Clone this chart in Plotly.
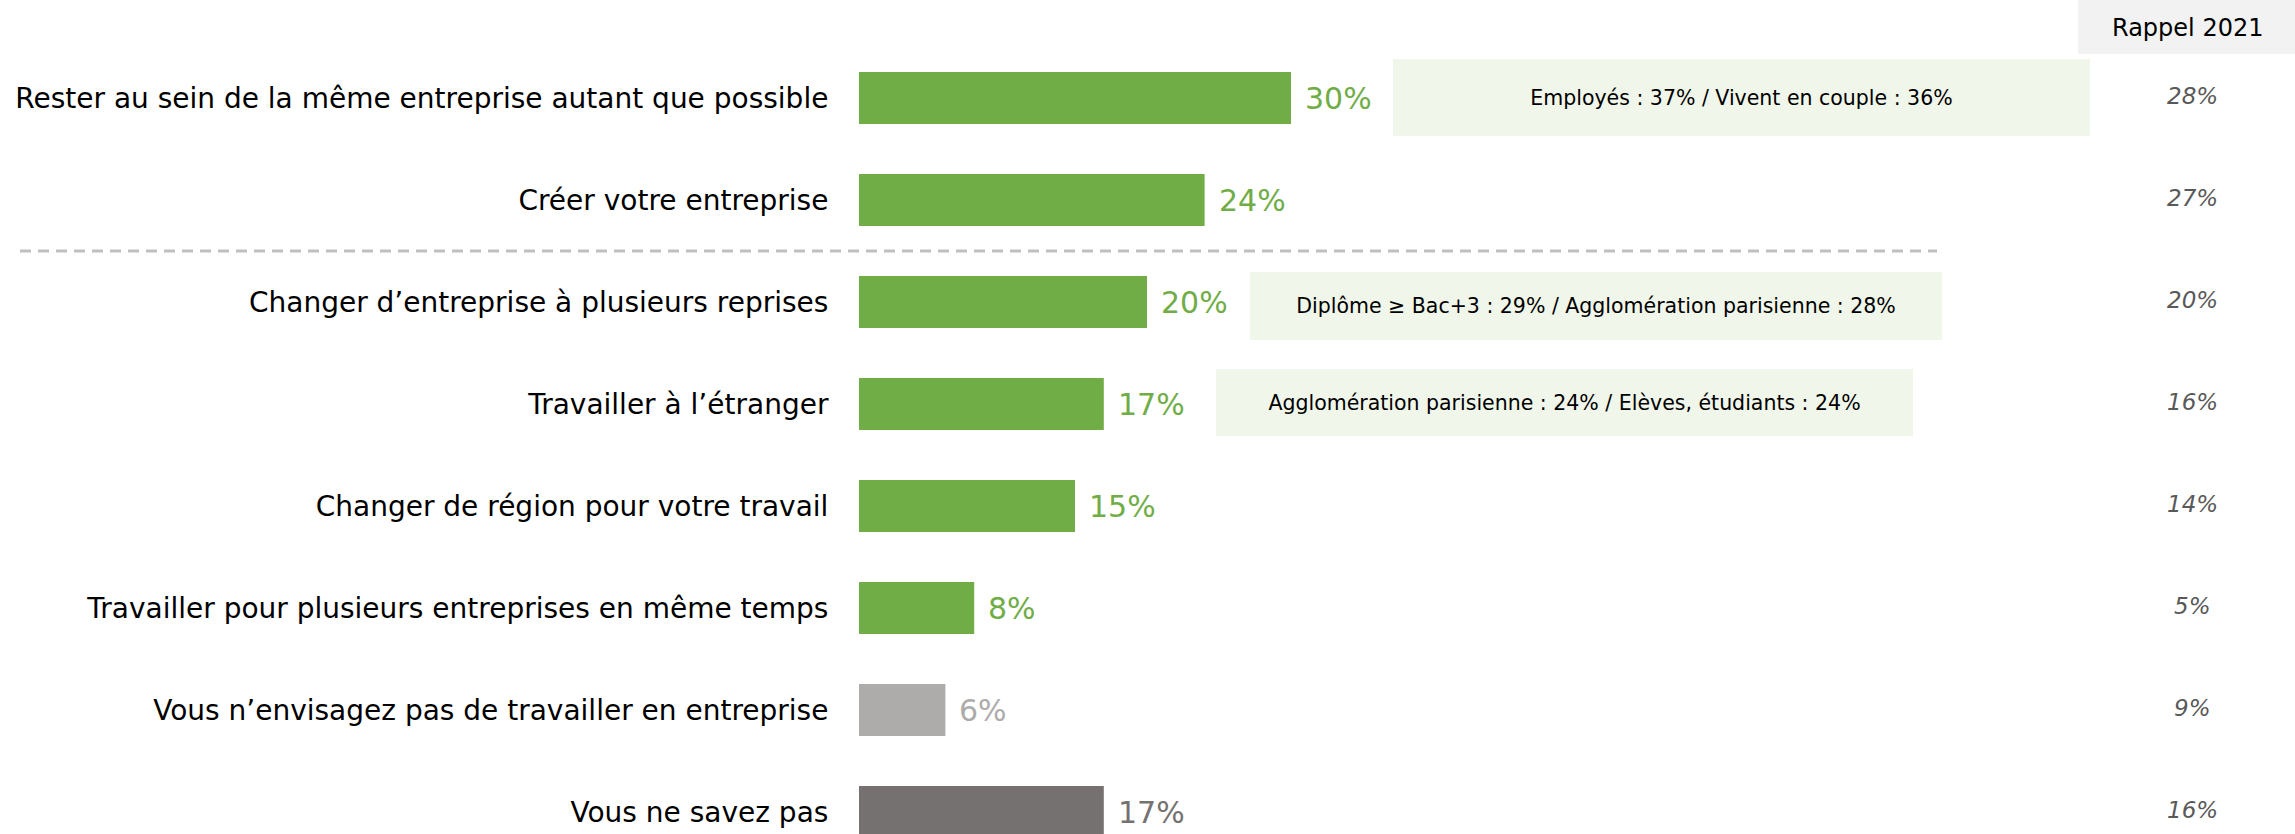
import plotly.graph_objects as go

categories = [
    "Rester au sein de la même entreprise autant que possible",
    "Créer votre entreprise",
    "Changer d’entreprise à plusieurs reprises",
    "Travailler à l’étranger",
    "Changer de région pour votre travail",
    "Travailler pour plusieurs entreprises en même temps",
    "Vous n’envisagez pas de travailler en entreprise",
    "Vous ne savez pas",
]
values_2023 = [30, 24, 20, 17, 15, 8, 6, 17]
values_2021 = [28, 27, 20, 16, 14, 5, 9, 16]
bar_colors = ["#70AD47"] * 6 + ["#AEABAB", "#767171"]
label_colors = ["#70AD47"] * 6 + ["#AEABAB", "#767171"]
highlights = {
    0: "Employés : 37% / Vivent en couple : 36%",
    2: "Diplôme ≥ Bac+3 : 29% / Agglomération parisienne : 28%",
    3: "Agglomération parisienne : 24% / Elèves, étudiants : 24%",
}
header = "Rappel 2021"

W, H = 2295, 834
FONT = "DejaVu Sans, Verdana, sans-serif"
ys = list(range(len(categories)))

fig = go.Figure()
fig.add_trace(go.Bar(
    x=values_2023, y=ys, orientation="h",
    marker=dict(color=bar_colors, line=dict(width=0)),
    width=0.51, hoverinfo="skip", showlegend=False,
))

# value labels
for i, (v, c) in enumerate(zip(values_2023, label_colors)):
    fig.add_annotation(x=v, y=i, xref="x", yref="y", text=f"{v}%",
                       showarrow=False, xanchor="left", xshift=12,
                       font=dict(family=FONT, size=30, color=c))

# Rappel 2021 values
for i, v in enumerate(values_2021):
    fig.add_annotation(x=2192 / W, y=i, xref="paper", yref="y", text=f"<i>{v}%</i>",
                       showarrow=False, xanchor="center", yshift=2,
                       font=dict(family=FONT, size=23, color="#595959"))

# highlight boxes
box_geom = {0: (1741.5, 697, 77, 97.5), 2: (1596, 692, 68, 306), 3: (1564.5, 697, 67, 402.5)}
for i, txt in highlights.items():
    cx, w, h, cy = box_geom[i]
    fig.add_annotation(x=cx / W, y=1 - cy / H, xref="paper", yref="paper", text=txt,
                       showarrow=False, xanchor="center", yanchor="middle",
                       width=w, height=h, bgcolor="#F0F6EA", borderpad=0, borderwidth=0,
                       font=dict(family=FONT, size=20.5, color="#000000"))

# header box
fig.add_shape(type="rect", xref="paper", yref="paper", x0=2078 / W, x1=1, y0=1 - 54 / H, y1=1,
              fillcolor="#F2F2F2", line=dict(width=0), layer="below")
fig.add_annotation(x=2187 / W, y=1 - 28 / H, xref="paper", yref="paper", text=header,
                   showarrow=False, xanchor="center", yanchor="middle",
                   font=dict(family=FONT, size=24, color="#000000"))

# dashed separator
fig.add_shape(type="line", xref="paper", yref="y", x0=20 / W, x1=1937 / W, y0=1.5, y1=1.5,
              line=dict(color="#BFBFBF", width=3, dash="11px,7px"))

x0 = 859
fig.update_layout(
    width=W, height=H,
    margin=dict(l=0, r=0, t=0, b=0),
    paper_bgcolor="white", plot_bgcolor="white",
    xaxis=dict(domain=[x0 / W, 1], range=[0, (W - x0) / 14.4], visible=False, fixedrange=True),
    yaxis=dict(range=[(H - 98) / 102, -98 / 102], tickmode="array", tickvals=ys,
               ticktext=categories, ticks="outside", ticklen=24, tickcolor="white",
               showgrid=False, zeroline=False, showline=False, fixedrange=True,
               tickfont=dict(family=FONT, size=28, color="#000000")),
    font=dict(family=FONT),
    hovermode=False,
)

fig.write_html("out.html", config={"displayModeBar": False},
               post_script="document.body.style.margin='0';")
